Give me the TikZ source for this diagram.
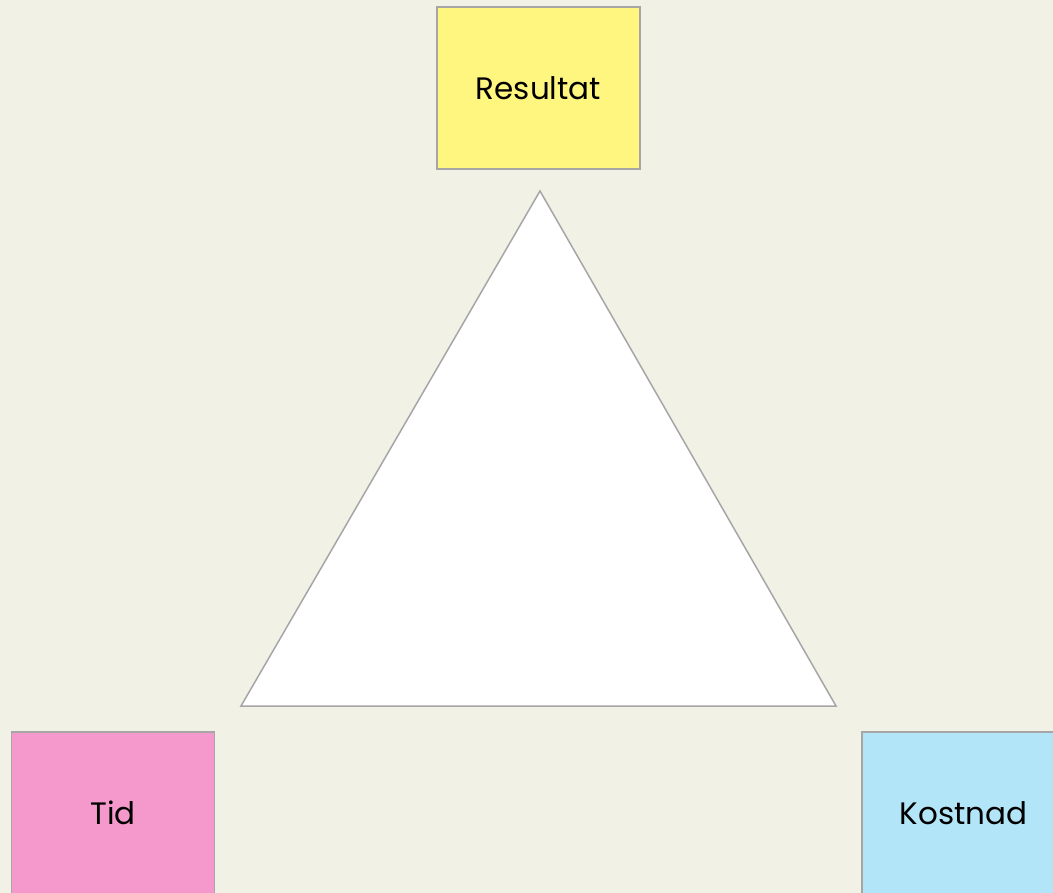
\documentclass[tikz,border=0pt]{standalone}
\usepackage{fontspec}
\setmainfont{Poppins}
\definecolor{bg}{HTML}{F2F1E6}
\definecolor{edge}{HTML}{A6A6A6}
\definecolor{yellowbox}{HTML}{FFF680}
\definecolor{pinkbox}{HTML}{F598CC}
\definecolor{bluebox}{HTML}{B1E5F7}
\tikzset{
	corner/.style = {draw = edge, line width = 1.5pt, minimum width = 203pt, minimum height = 162pt, inner sep = 0pt, font = \fontsize{31}{36}\selectfont}
}
\begin{document}
\begin{tikzpicture}[x = 1pt, y = -1pt]
	\clip (0,0) rectangle (1053,893);
	\fill [bg] (0,0) rectangle (1053,893);
	%\draw [fill = white] (540,191) -- (241,706) -- (836,706) -- cycle;
	\draw [draw = edge, line width = 1.5pt, fill = white] (540,191) coordinate (top) -- (241,706) coordinate (left) -- (836,706) coordinate (right) -- cycle;
	\node [corner, fill = yellowbox] (resultat) at (538.5,88) {Resultat};
	\node [corner, fill = pinkbox] (tid) at (113,813) {Tid};
	\node [corner, fill = bluebox] (kostnad) at (963.5,813) {Kostnad};
\end{tikzpicture}
\end{document}
